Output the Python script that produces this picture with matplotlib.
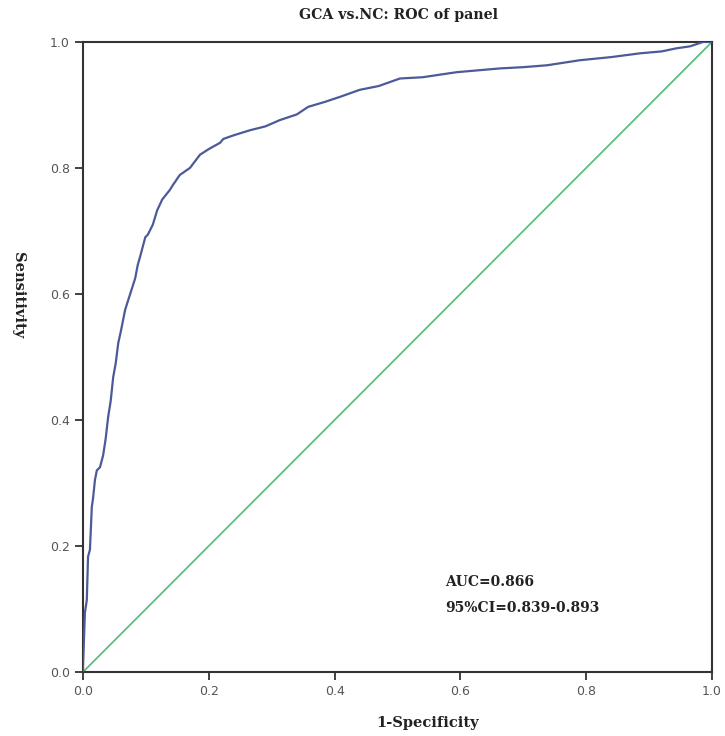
import matplotlib
matplotlib.use("Agg")
import matplotlib.pyplot as plt

fpr = [0.0, 0.0, 0.003, 0.006, 0.008, 0.011, 0.014, 0.016, 0.019, 0.022, 0.027, 0.032,
       0.036, 0.040, 0.044, 0.048, 0.052, 0.056, 0.060, 0.067, 0.075, 0.083, 0.087,
       0.091, 0.099, 0.103, 0.111, 0.118, 0.126, 0.138, 0.143, 0.154, 0.170, 0.186,
       0.200, 0.218, 0.223, 0.240, 0.266, 0.290, 0.313, 0.340, 0.358, 0.385, 0.409,
       0.440, 0.470, 0.504, 0.540, 0.594, 0.663, 0.700, 0.738, 0.790, 0.840, 0.886,
       0.920, 0.944, 0.965, 0.986, 1.0]
tpr = [0.0, 0.008, 0.094, 0.114, 0.183, 0.194, 0.262, 0.276, 0.305, 0.320, 0.325, 0.344,
       0.370, 0.405, 0.430, 0.468, 0.490, 0.522, 0.540, 0.575, 0.600, 0.625, 0.646,
       0.660, 0.690, 0.694, 0.710, 0.733, 0.750, 0.765, 0.773, 0.789, 0.800, 0.821,
       0.830, 0.840, 0.846, 0.852, 0.860, 0.866, 0.876, 0.885, 0.897, 0.905, 0.913,
       0.924, 0.930, 0.942, 0.944, 0.952, 0.958, 0.960, 0.963, 0.971, 0.976, 0.982,
       0.985, 0.990, 0.993, 1.0, 1.0]

diag = [0.0, 1.0]
ticks = [0.0, 0.2, 0.4, 0.6, 0.8, 1.0]
tick_labels = ["0.0", "0.2", "0.4", "0.6", "0.8", "1.0"]
title = "GCA vs.NC: ROC of panel"
xlabel = "1-Specificity"
ylabel = "Sensitivity"
auc_text = "AUC=0.866"
ci_text = "95%CI=0.839-0.893"

W, H = 725, 736
fig = plt.figure(figsize=(W / 100, H / 100), dpi=100)
ax = fig.add_axes([0.1145, 0.087, 0.8675, 0.856])

ax.plot(diag, diag, color="#5cbf80", lw=1.3, zorder=2)
ax.plot(fpr, tpr, color="#4c5a98", lw=1.6, zorder=3)

ax.set_xlim(0, 1)
ax.set_ylim(0, 1)
ax.set_xticks(ticks)
ax.set_xticklabels(tick_labels)
ax.set_yticks(ticks)
ax.set_yticklabels(tick_labels)
ax.tick_params(direction="out", length=6, width=1.3, colors="#333333",
               labelsize=9, labelcolor="#555555")
for s in ax.spines.values():
    s.set_linewidth(1.5)
    s.set_color("#333333")

serif = ["DejaVu Serif", "Liberation Serif"]
fig.text(399 / W, 1 - 15 / H, title, family=serif, fontweight="bold", fontsize=10.2,
         ha="center", va="center", color="#222222")
fig.text(428 / W, 1 - 723 / H, xlabel, family=serif, fontweight="bold", fontsize=10.5,
         ha="center", va="center", color="#222222")
fig.text(18 / W, 1 - 295 / H, ylabel, family=serif, fontweight="bold", fontsize=10.5,
         ha="center", va="center", rotation=270, color="#222222")
ax.text(445 / W, 1 - 582 / H, auc_text, family=serif, fontweight="bold", fontsize=10,
        transform=fig.transFigure, color="#222222", va="center")
ax.text(445 / W, 1 - 608 / H, ci_text, family=serif, fontweight="bold", fontsize=10,
        transform=fig.transFigure, color="#222222", va="center")

fig.savefig("out.png", dpi=100, facecolor="white")
